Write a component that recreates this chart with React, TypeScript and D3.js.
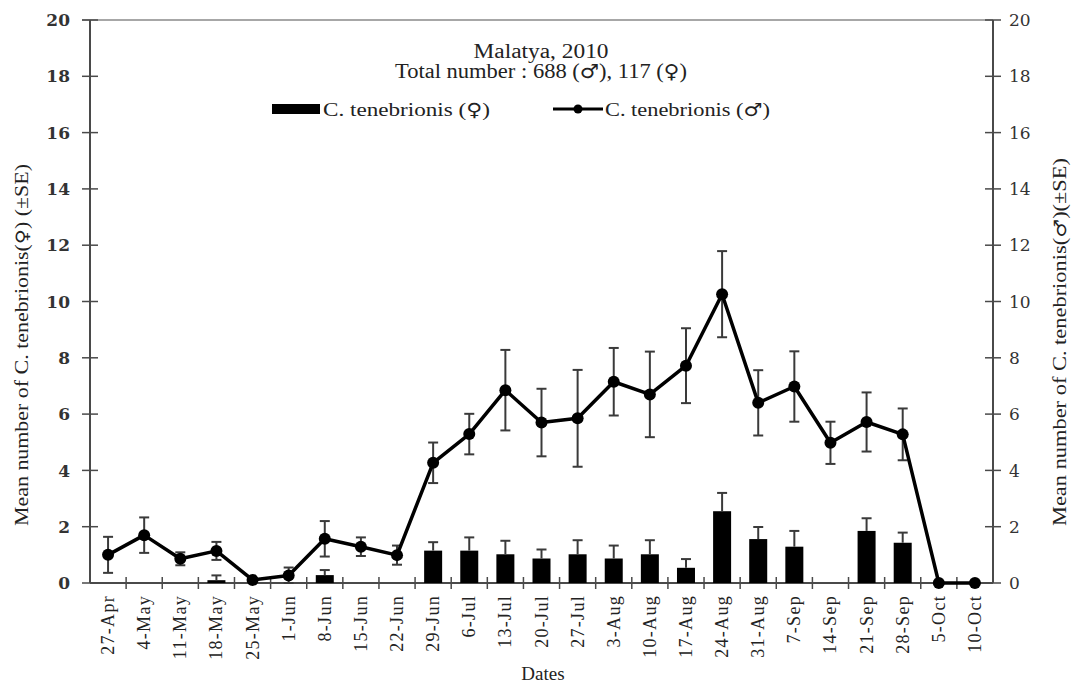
import React from "react";
import { scaleBand, scaleLinear, line } from "d3";

const dates = [
  "27-Apr", "4-May", "11-May", "18-May", "25-May", "1-Jun", "8-Jun", "15-Jun",
  "22-Jun", "29-Jun", "6-Jul", "13-Jul", "20-Jul", "27-Jul", "3-Aug", "10-Aug",
  "17-Aug", "24-Aug", "31-Aug", "7-Sep", "14-Sep", "21-Sep", "28-Sep", "5-Oct", "10-Oct"
];

// males (line, right axis)
const maleMean = [
  1.0, 1.7, 0.86, 1.14, 0.11, 0.27, 1.57, 1.29, 0.99, 4.27, 5.29, 6.85, 5.7,
  5.85, 7.15, 6.7, 7.72, 10.26, 6.4, 6.98, 4.98, 5.72, 5.28, 0, 0
];
const maleSE = [
  0.64, 0.63, 0.23, 0.32, 0.05, 0.28, 0.63, 0.33, 0.34, 0.72, 0.72, 1.43, 1.2,
  1.72, 1.2, 1.52, 1.33, 1.53, 1.16, 1.25, 0.75, 1.05, 0.92, 0, 0
];

// females (bars, left axis)
const femaleMean = [
  0, 0, 0, 0.1, 0, 0, 0.28, 0, 0, 1.15, 1.15, 1.02, 0.87, 1.02, 0.87, 1.02,
  0.54, 2.55, 1.56, 1.29, 0, 1.85, 1.43, 0, 0
];
const femaleSE = [
  0, 0, 0, 0.17, 0, 0, 0.18, 0, 0, 0.3, 0.47, 0.48, 0.32, 0.5, 0.46, 0.5,
  0.31, 0.65, 0.43, 0.56, 0, 0.45, 0.36, 0, 0
];

const yTicks = [0, 2, 4, 6, 8, 10, 12, 14, 16, 18, 20];

const serif = "'Liberation Serif', 'Times New Roman', serif";
const sym = "'DejaVu Sans', sans-serif";

export default function App() {
  const width = 1074,
    height = 686;
  const left = 90,
    right = 993,
    top = 20,
    bottom = 583;

  const x = scaleBand<string>().domain(dates).range([left, right]);
  const y = scaleLinear().domain([0, 20]).range([bottom, top]);
  const cx = (d: string) => (x(d) as number) + x.bandwidth() / 2;
  const barW = 18;
  const cap = 5;

  const maleLine = line<number>()
    .x((_, i) => cx(dates[i]))
    .y(d => y(d));

  const axisColor = "#4a4a4a";
  const errColor = "#3a3a3a";

  return (
    <svg
      width={width}
      height={height}
      style={{ position: "absolute", left: 0, top: 0, background: "#fff" }}
    >
      {/* frame */}
      <line x1={left - 8} x2={right} y1={top} y2={top} stroke="#8a8a8a" strokeWidth={1.5} />
      <line x1={left} x2={left} y1={top} y2={bottom} stroke={axisColor} strokeWidth={2} />
      <line x1={right} x2={right} y1={top} y2={bottom} stroke={axisColor} strokeWidth={2} />
      <line x1={left} x2={right} y1={bottom} y2={bottom} stroke={axisColor} strokeWidth={2} />

      {/* y ticks both sides */}
      {yTicks.map(t => (
        <g key={"yt" + t}>
          <line x1={left - 8} x2={left + 8} y1={y(t)} y2={y(t)} stroke={axisColor} strokeWidth={1.5} />
          <line x1={right - 8} x2={right + 8} y1={y(t)} y2={y(t)} stroke={axisColor} strokeWidth={1.5} />
          <text
            x={70}
            y={y(t)}
            dy="0.36em"
            textAnchor="end"
            fontFamily="'DejaVu Serif', serif"
            fontWeight="bold"
            fontSize={17}
            fill="#333"
          >
            {t}
          </text>
          <text
            x={1009}
            y={y(t)}
            dy="0.36em"
            fontFamily="'DejaVu Serif', serif"
            fontSize={17}
            fill="#333"
          >
            {t}
          </text>
        </g>
      ))}

      {/* x ticks between categories */}
      {dates.slice(1).map(d => (
        <line
          key={"xt" + d}
          x1={x(d)}
          x2={x(d)}
          y1={bottom - 6}
          y2={bottom + 6}
          stroke={axisColor}
          strokeWidth={1.5}
        />
      ))}

      {/* x labels */}
      {dates.map(d => (
        <text
          key={"xl" + d}
          transform={`translate(${cx(d) + 6}, 595) rotate(-90)`}
          textAnchor="end"
          fontFamily={serif}
          fontSize={18}
          letterSpacing={1.3}
          fill="#222"
        >
          {d}
        </text>
      ))}

      {/* female bars */}
      {femaleMean.map((v, i) =>
        v > 0 ? (
          <rect
            key={"b" + i}
            x={cx(dates[i]) - barW / 2}
            y={y(v)}
            width={barW}
            height={bottom - y(v)}
            fill="#000"
          />
        ) : null
      )}
      {femaleMean.map((v, i) =>
        femaleSE[i] > 0 ? (
          <g key={"be" + i} stroke={errColor} strokeWidth={2}>
            <line x1={cx(dates[i])} x2={cx(dates[i])} y1={y(v)} y2={y(v + femaleSE[i])} />
            <line
              x1={cx(dates[i]) - cap}
              x2={cx(dates[i]) + cap}
              y1={y(v + femaleSE[i])}
              y2={y(v + femaleSE[i])}
            />
          </g>
        ) : null
      )}

      {/* male error bars */}
      {maleMean.map((v, i) =>
        maleSE[i] > 0 ? (
          <g key={"me" + i} stroke={errColor} strokeWidth={2}>
            <line
              x1={cx(dates[i])}
              x2={cx(dates[i])}
              y1={y(Math.max(0, v - maleSE[i]))}
              y2={y(v + maleSE[i])}
            />
            <line
              x1={cx(dates[i]) - cap}
              x2={cx(dates[i]) + cap}
              y1={y(v + maleSE[i])}
              y2={y(v + maleSE[i])}
            />
            <line
              x1={cx(dates[i]) - cap}
              x2={cx(dates[i]) + cap}
              y1={y(Math.max(0, v - maleSE[i]))}
              y2={y(Math.max(0, v - maleSE[i]))}
            />
          </g>
        ) : null
      )}

      {/* male line */}
      <path d={maleLine(maleMean) || ""} fill="none" stroke="#000" strokeWidth={3.5} strokeLinejoin="round" />
      {maleMean.map((v, i) => (
        <circle key={"m" + i} cx={cx(dates[i])} cy={y(v)} r={6} fill="#000" />
      ))}

      {/* title */}
      <text x={541} y={58} textAnchor="middle" fontFamily={serif} fontSize={20} fill="#222"
        textLength={135} lengthAdjust="spacingAndGlyphs">
        Malatya, 2010
      </text>
      <text x={541} y={78} textAnchor="middle" fontFamily={serif} fontSize={20} fill="#222"
        textLength={292} lengthAdjust="spacingAndGlyphs">
        Total number :  688  (<tspan fontFamily={sym} fontSize={19}>♂</tspan>), 117 (<tspan fontFamily={sym} fontSize={19}>♀</tspan>)
      </text>

      {/* legend */}
      <rect x={272} y={104} width={48} height={10} fill="#000" />
      <text x={323} y={116} fontFamily={serif} fontSize={19} fill="#222"
        textLength={167} lengthAdjust="spacingAndGlyphs">
        C. tenebrionis (<tspan fontFamily={sym} fontSize={18}>♀</tspan>)
      </text>
      <line x1={553} x2={603} y1={109} y2={109} stroke="#000" strokeWidth={3} />
      <circle cx={578} cy={109} r={4.5} fill="#000" />
      <text x={605} y={116} fontFamily={serif} fontSize={19} fill="#222"
        textLength={165} lengthAdjust="spacingAndGlyphs">
        C. tenebrionis (<tspan fontFamily={sym} fontSize={18}>♂</tspan>)
      </text>

      {/* axis titles */}
      <text transform="translate(28, 345) rotate(-90)" textAnchor="middle" fontFamily={serif}
        fontSize={18} fill="#222" textLength={362} lengthAdjust="spacingAndGlyphs">
        Mean number of  C. tenebrionis(<tspan fontFamily={sym} fontSize={17}>♀</tspan>) (±SE)
      </text>
      <text transform="translate(1066, 342) rotate(-90)" textAnchor="middle" fontFamily={serif}
        fontSize={18} fill="#222" textLength={368} lengthAdjust="spacingAndGlyphs">
        Mean number of  C. tenebrionis(<tspan fontFamily={sym} fontSize={17}>♂</tspan>)(±SE)
      </text>
      <text x={543} y={680} textAnchor="middle" fontFamily={serif} fontSize={19} fill="#222">
        Dates
      </text>
    </svg>
  );
}
